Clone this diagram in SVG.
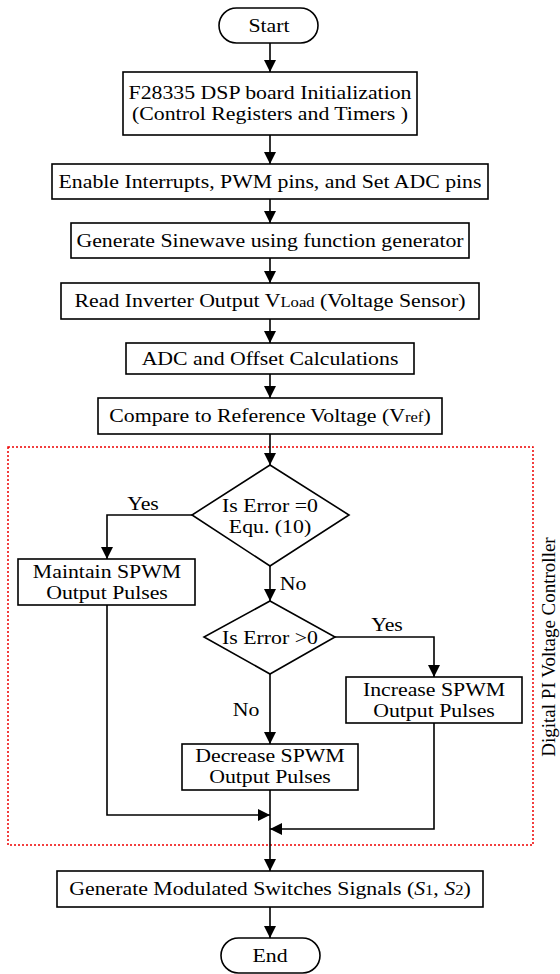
<svg xmlns="http://www.w3.org/2000/svg" width="560" height="974" viewBox="0 0 560 974">
<style>
.box{fill:#fff;stroke:#000;stroke-width:1.6}
.t{font-family:"Liberation Serif","Times New Roman",serif;font-size:19px;fill:#000;text-anchor:middle}
.sm{font-size:14.5px}
.c{fill:none;stroke:#000;stroke-width:1.6}
</style>
<defs>
<marker id="ah" markerUnits="userSpaceOnUse" markerWidth="12" markerHeight="12" viewBox="0 0 12 12" refX="12" refY="6" orient="auto">
<path d="M0,0 L12,6 L0,12 z" fill="#000"/>
</marker>
</defs>
<rect x="8" y="447" width="525" height="398" fill="none" stroke="#e00" stroke-width="1.5" stroke-dasharray="2,2"/>
<g id="connectors">
<path class="c" d="M270,43 V72" marker-end="url(#ah)"/>
<path class="c" d="M270,135 V164" marker-end="url(#ah)"/>
<path class="c" d="M270,199 V223" marker-end="url(#ah)"/>
<path class="c" d="M270,258 V283" marker-end="url(#ah)"/>
<path class="c" d="M270,319 V343" marker-end="url(#ah)"/>
<path class="c" d="M270,374 V398" marker-end="url(#ah)"/>
<path class="c" d="M270,434 V465" marker-end="url(#ah)"/>
<path class="c" d="M192,515 H107 V559" marker-end="url(#ah)"/>
<path class="c" d="M270,566 V601" marker-end="url(#ah)"/>
<path class="c" d="M335,637 H434 V677" marker-end="url(#ah)"/>
<path class="c" d="M270,674 V744" marker-end="url(#ah)"/>
<path class="c" d="M107,605 V815 H270" marker-end="url(#ah)"/>
<path class="c" d="M434,723 V829 H270" marker-end="url(#ah)"/>
<path class="c" d="M270,790 V871" marker-end="url(#ah)"/>
<path class="c" d="M270,907 V938" marker-end="url(#ah)"/>
</g>
<g id="start"><rect class="box" x="219" y="8" width="99" height="35" rx="17.5"/><text class="t" transform="translate(269 32) scale(1.147 1)">Start</text></g>
<g id="init"><rect class="box" x="123" y="72" width="294" height="63"/><text class="t" transform="translate(270 99) scale(1.147 1)"><tspan x="0" y="0">F28335 DSP board Initialization</tspan><tspan x="0" y="21">(Control Registers and Timers )</tspan></text></g>
<g id="enable"><rect class="box" x="52" y="164" width="436" height="35"/><text class="t" transform="translate(270 188) scale(1.147 1)">Enable Interrupts, PWM pins, and Set ADC pins</text></g>
<g id="sine"><rect class="box" x="71" y="223" width="398" height="35"/><text class="t" transform="translate(270 247) scale(1.147 1)">Generate Sinewave using function generator</text></g>
<g id="read"><rect class="box" x="61" y="283" width="418" height="36"/><text class="t" transform="translate(270 307) scale(1.147 1)">Read Inverter Output V<tspan class="sm">Load</tspan> (Voltage Sensor)</text></g>
<g id="adc"><rect class="box" x="126" y="343" width="288" height="31"/><text class="t" transform="translate(270 365) scale(1.147 1)">ADC and Offset Calculations</text></g>
<g id="compare"><rect class="box" x="98" y="398" width="344" height="36"/><text class="t" transform="translate(270 422) scale(1.147 1)">Compare to Reference Voltage (V<tspan class="sm">ref</tspan>)</text></g>
<g id="dec1"><polygon class="box" points="270,465 349,515 270,566 192,515"/><text class="t" transform="translate(270 512) scale(1.147 1)"><tspan x="0" y="0">Is Error =0</tspan><tspan x="0" y="21">Equ. (10)</tspan></text></g>
<g id="maintain"><rect class="box" x="18" y="559" width="177" height="46"/><text class="t" transform="translate(107 578) scale(1.147 1)"><tspan x="0" y="0">Maintain SPWM</tspan><tspan x="0" y="21">Output Pulses</tspan></text></g>
<g id="dec2"><polygon class="box" points="270,601 335,637 270,674 204,637"/><text class="t" transform="translate(270 644) scale(1.147 1)">Is Error &gt;0</text></g>
<g id="increase"><rect class="box" x="346" y="677" width="176" height="46"/><text class="t" transform="translate(434 696) scale(1.147 1)"><tspan x="0" y="0">Increase SPWM</tspan><tspan x="0" y="21">Output Pulses</tspan></text></g>
<g id="decrease"><rect class="box" x="182" y="744" width="176" height="46"/><text class="t" transform="translate(270 762) scale(1.147 1)"><tspan x="0" y="0">Decrease SPWM</tspan><tspan x="0" y="21">Output Pulses</tspan></text></g>
<g id="generate"><rect class="box" x="57" y="871" width="426" height="36"/><text class="t" transform="translate(270 895) scale(1.147 1)">Generate Modulated Switches Signals (<tspan font-style="italic">S</tspan><tspan class="sm">1</tspan>, <tspan font-style="italic">S</tspan><tspan class="sm">2</tspan>)</text></g>
<g id="end"><rect class="box" x="221" y="938" width="99" height="35" rx="17.5"/><text class="t" transform="translate(270 962) scale(1.147 1)">End</text></g>
<g id="labels">
<text class="t" transform="translate(143 510) scale(1.147 1)">Yes</text>
<text class="t" transform="translate(293 590) scale(1.147 1)">No</text>
<text class="t" transform="translate(387 631) scale(1.147 1)">Yes</text>
<text class="t" transform="translate(246 716) scale(1.147 1)">No</text>
<text class="t" transform="translate(555 647) rotate(-90)">Digital PI Voltage Controller</text>
</g>
</svg>
